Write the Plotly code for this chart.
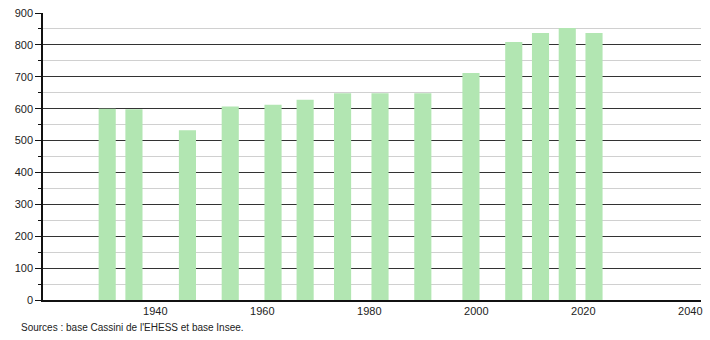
import plotly.graph_objects as go

years = [1931, 1936, 1946, 1954, 1962, 1968, 1975, 1982, 1990, 1999, 2007, 2012, 2017, 2022]
population = [600, 598, 532, 607, 612, 628, 648, 648, 648, 712, 809, 837, 853, 837]
x_ticks = [1940, 1960, 1980, 2000, 2020, 2040]
y_ticks = [0, 100, 200, 300, 400, 500, 600, 700, 800, 900]
source_text = "Sources : base Cassini de l'EHESS et base Insee."

fig = go.Figure()
fig.add_trace(go.Bar(
    x=years, y=population, width=3.2,
    marker=dict(color="#b2e6b2", line=dict(width=0)),
    hoverinfo="x+y",
))

fig.update_layout(
    width=710, height=340,
    margin=dict(l=43, r=8, t=7, b=40),
    paper_bgcolor="white", plot_bgcolor="white",
    showlegend=False,
    font=dict(family="Liberation Sans, Arial, sans-serif", size=11, color="#222"),
    xaxis=dict(
        range=[1919, 2042], tickvals=x_ticks, ticks="", showgrid=False,
        showline=True, linecolor="#111", linewidth=1.5, zeroline=False,
        tickfont=dict(size=11),
    ),
    yaxis=dict(
        range=[0, 900], tickvals=y_ticks, ticks="outside", ticklen=6, tickcolor="#111",
        showgrid=True, gridcolor="#333", gridwidth=1,
        showline=True, linecolor="#111", linewidth=1.5, zeroline=False,
        minor=dict(dtick=50, showgrid=True, gridcolor="#d0d0d0", gridwidth=1,
                   ticks="outside", ticklen=3, tickcolor="#111"),
        tickfont=dict(size=11),
    ),
    annotations=[dict(
        text=source_text, xref="paper", yref="paper", x=-0.036, y=-0.068,
        xanchor="left", yanchor="top", showarrow=False,
        font=dict(size=10, color="#222"),
    )],
)

fig.write_html("out.html")
